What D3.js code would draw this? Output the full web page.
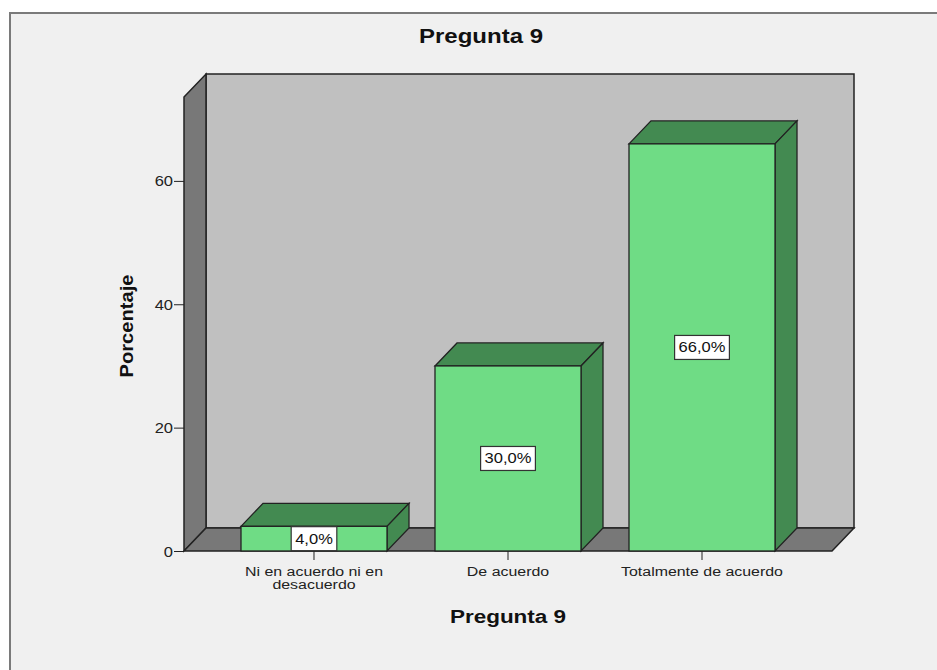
<!DOCTYPE html>
<html><head><meta charset="utf-8">
<script src="https://cdn.jsdelivr.net/npm/d3@7"></script>
<style>body{margin:0;background:#fff}svg{display:block}text{font-family:"Liberation Sans",Arial,sans-serif}</style>
</head><body><svg id="c" width="937" height="670"></svg>
<script>
const categories = ["Ni en acuerdo ni en desacuerdo", "De acuerdo", "Totalmente de acuerdo"];
const categoryLines = [["Ni en acuerdo ni en", "desacuerdo"], ["De acuerdo"], ["Totalmente de acuerdo"]];
const values = [4.0, 30.0, 66.0];
const valueLabels = ["4,0%", "30,0%", "66,0%"];
const yTicks = [0, 20, 40, 60];
const title = "Pregunta 9";
const xTitle = "Pregunta 9";
const yTitle = "Porcentaje";

const SX = 1.18; // horizontal stretch of the reference's lettering

const svg = d3.select("#c");
svg.append("rect").attr("x", 10).attr("y", 13).attr("width", 940).attr("height", 670)
  .attr("fill", "#f0f0f0").attr("stroke", "#7a7a7a").attr("stroke-width", 2);

const x0 = 184, x1 = 832, yb = 551, yt = 97;
const dx = 22, dy = -23;
const y = d3.scaleLinear().domain([0, 73.6]).range([yb, yt]);
const x = d3.scaleBand().domain(categories).range([x0, x1]).paddingInner(0.2474).paddingOuter(0.2938);

const g = svg.append("g");
const poly = pts => "M" + pts.map(p => p.join(",")).join("L") + "Z";
const stroke = "#222";
g.append("path").attr("d", poly([[x0+dx, yt+dy], [x1+dx, yt+dy], [x1+dx, yb+dy], [x0+dx, yb+dy]]))
  .attr("fill", "#c0c0c0").attr("stroke", stroke).attr("stroke-width", 1.5);
g.append("path").attr("d", poly([[x0, yt], [x0+dx, yt+dy], [x0+dx, yb+dy], [x0, yb]]))
  .attr("fill", "#787878").attr("stroke", stroke).attr("stroke-width", 1.5);
g.append("path").attr("d", poly([[x0, yb], [x0+dx, yb+dy], [x1+dx, yb+dy], [x1, yb]]))
  .attr("fill", "#787878").attr("stroke", stroke).attr("stroke-width", 1.5);

// y axis
const yAxis = g.append("g").attr("transform", `translate(${x0},0)`)
  .call(d3.axisLeft(y).tickValues(yTicks).tickSize(10).tickPadding(1).tickFormat(d3.format("d")));
yAxis.select(".domain").remove();
yAxis.selectAll("line").attr("stroke", "#222");
yAxis.selectAll(".tick text").each(function() {
  const t = d3.select(this);
  t.attr("x", null).attr("dy", null).attr("text-anchor", "end")
   .attr("transform", `translate(-11,5) scale(${SX},1)`)
   .attr("font-size", 14).attr("fill", "#222").attr("font-family", "'Liberation Sans', Arial, sans-serif");
});

// x axis ticks
const xAxis = g.append("g").attr("transform", `translate(0,${yb})`)
  .call(d3.axisBottom(x).tickSize(9).tickFormat(""));
xAxis.select(".domain").remove();
xAxis.selectAll("line").attr("stroke", "#222");

function stext(parent, tx, ty, str, size, bold, sx) {
  return parent.append("text").attr("transform", `translate(${tx},${ty}) scale(${sx || SX},1)`)
    .attr("text-anchor", "middle").attr("font-size", size)
    .attr("font-weight", bold ? "bold" : "normal").attr("fill", "#111").text(str);
}

// bars
g.selectAll(".bar").data(values).enter().append("g").attr("class", "bar").each(function(v, i) {
  const b = d3.select(this);
  const L = x(categories[i]), R = L + x.bandwidth(), T = y(v), B = y(0);
  b.append("path").attr("d", poly([[L, T], [L+dx, T+dy], [R+dx, T+dy], [R, T]]))
    .attr("fill", "#438a51").attr("stroke", stroke).attr("stroke-width", 1.3);
  b.append("path").attr("d", poly([[R, T], [R+dx, T+dy], [R+dx, B+dy], [R, B]]))
    .attr("fill", "#438a51").attr("stroke", stroke).attr("stroke-width", 1.3);
  b.append("rect").attr("x", L).attr("y", T).attr("width", R-L).attr("height", B-T)
    .attr("fill", "#6fdc85").attr("stroke", stroke).attr("stroke-width", 1.3);
  const cx = L + x.bandwidth()/2, cy = y(v/2);
  const t = stext(b, cx, cy + 5, valueLabels[i], 14, false);
  const w = t.node().getComputedTextLength() * SX + 8;
  b.insert("rect", "text").attr("x", cx - w/2).attr("y", cy - 12).attr("width", w).attr("height", 24)
    .attr("fill", "#fff").attr("stroke", "#333").attr("stroke-width", 1.2);
});

// category labels
categoryLines.forEach((lines, i) => {
  const cx = x(categories[i]) + x.bandwidth()/2;
  lines.forEach((ln, j) => stext(g, cx, 576 + j*13, ln, 13.5, false).attr("fill", "#222"));
});

// titles
stext(svg, 481, 43, title, 20, true, 1.2);
stext(svg, 508, 623, xTitle, 18, true, 1.25);
svg.append("text").attr("transform", "translate(133,326) rotate(-90) scale(1.12,1)").attr("text-anchor", "middle")
  .attr("font-size", 18).attr("font-weight", "bold").attr("fill", "#111").text(yTitle);
</script></body></html>
